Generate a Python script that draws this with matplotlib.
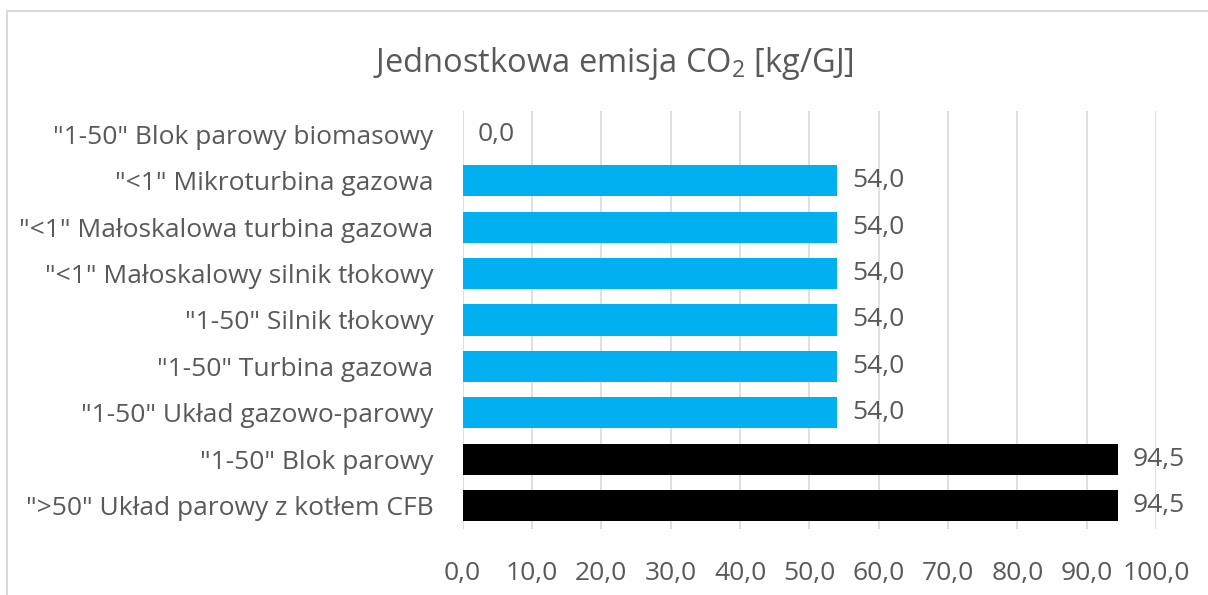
import matplotlib
matplotlib.use('Agg')
import matplotlib.pyplot as plt
from matplotlib.patches import Rectangle

plt.rcParams['font.family'] = ['Open Sans', 'DejaVu Sans']
plt.rcParams['mathtext.fontset'] = 'custom'
plt.rcParams['mathtext.rm'] = 'Open Sans'
plt.rcParams['mathtext.default'] = 'regular'

# dane (od góry do dołu)
categories = ['"1-50" Blok parowy biomasowy',
              '"<1" Mikroturbina gazowa',
              '"<1" Małoskalowa turbina gazowa',
              '"<1" Małoskalowy silnik tłokowy',
              '"1-50" Silnik tłokowy',
              '"1-50" Turbina gazowa',
              '"1-50" Układ gazowo-parowy',
              '"1-50" Blok parowy',
              '">50" Układ parowy z kotłem CFB']
values = [0.0, 54.0, 54.0, 54.0, 54.0, 54.0, 54.0, 94.5, 94.5]
colors = ['#00B0F0'] * 7 + ['#000000'] * 2
xticks = [0, 10, 20, 30, 40, 50, 60, 70, 80, 90, 100]

txt = '#595959'
fs = 19
fig = plt.figure(figsize=(12.08, 5.95), dpi=100)
ax = fig.add_axes([0.383, 0.111, 0.574, 0.7025])

# ramka wykresu
fig.patches.append(Rectangle((7 / 1208, -0.1), 1.2, 1 - 11 / 595 + 0.1,
                             transform=fig.transFigure, fill=False,
                             edgecolor='#D9D9D9', linewidth=1.5))

y = list(range(len(categories)))
ax.barh(y, values, height=0.67, color=colors, zorder=3)
for i, v in enumerate(values):
    ax.annotate(f'{v:.1f}'.replace('.', ','), (v, i), xytext=(15, 0),
                textcoords='offset pixels', va='center', ha='left',
                fontsize=fs, color=txt)

ax.set_xlim(0, 100)
ax.set_ylim(len(categories) - 0.5, -0.5)
ax.set_yticks(y)
ax.set_yticklabels(categories)
ax.set_xticks(xticks)
ax.set_xticklabels([f'{t:.1f}'.replace('.', ',') for t in xticks])
ax.tick_params(axis='y', length=0, pad=21, labelsize=fs, labelcolor=txt)
ax.tick_params(axis='x', length=0, pad=23, labelsize=fs, labelcolor=txt)
ax.grid(axis='x', color='#D9D9D9', linewidth=1.2, zorder=0)
for s in ax.spines.values():
    s.set_visible(False)

fig.text(0.508, 0.893, 'Jednostkowa emisja CO$_2$ [kg/GJ]', ha='center',
         va='center', fontsize=23.5, color=txt)

fig.savefig('out.png', dpi=100)
